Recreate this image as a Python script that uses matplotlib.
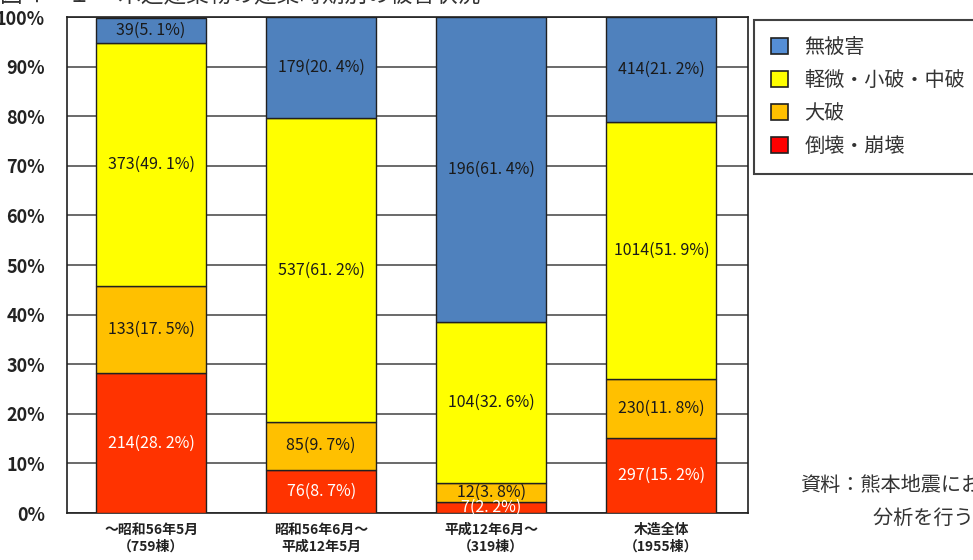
import numpy as np
import matplotlib.pyplot as plt
from matplotlib.patches import Patch

plt.rcParams['font.family'] = ['Noto Sans CJK JP', 'DejaVu Sans']

groups = ['～昭和56年5月\n（759棟）', '昭和56年6月～\n平成12年5月', '平成12年6月～\n（319棟）', '木造全体\n（1955棟）']
categories = ['倒壊・崩壊', '大破', '軽微・小破・中破', '無被害']

# counts and shares per category (bottom to top)
counts = {
    '倒壊・崩壊': [214, 76, 7, 297],
    '大破': [133, 85, 12, 230],
    '軽微・小破・中破': [373, 537, 104, 1014],
    '無被害': [39, 179, 196, 414],
}
shares = {
    '倒壊・崩壊': [28.2, 8.7, 2.2, 15.2],
    '大破': [17.5, 9.7, 3.8, 11.8],
    '軽微・小破・中破': [49.1, 61.2, 32.6, 51.9],
    '無被害': [5.1, 20.4, 61.4, 21.2],
}
bar_colors = {'倒壊・崩壊': '#FF3300', '大破': '#FFC000', '軽微・小破・中破': '#FFFF00', '無被害': '#4F81BD'}
legend_colors = {'倒壊・崩壊': '#FF0000', '大破': '#FFC000', '軽微・小破・中破': '#FFFF00', '無被害': '#558ED5'}

fig = plt.figure(figsize=(9.73, 5.6), dpi=100)
ax = fig.add_axes([0.0689, 0.0839, 0.7000, 0.8857])

x = np.arange(len(groups))
bottom = np.zeros(len(groups))
for cat in categories:
    vals = np.array(shares[cat])
    ax.bar(x, vals, 0.647, bottom=bottom, color=bar_colors[cat], edgecolor='#202020', linewidth=1, zorder=3)
    for i in range(len(groups)):
        label = f'{counts[cat][i]}({vals[i]:.1f}%)'.replace('.', '. ')
        tc = 'white' if cat == '倒壊・崩壊' else '#1a1a1a'
        ax.text(x[i], bottom[i] + vals[i] / 2, label, ha='center', va='center', fontsize=11.5, color=tc, zorder=4)
    bottom += vals

ax.set_xlim(-0.494, 3.51)
ax.set_ylim(0, 100)
ax.set_yticks(np.arange(0, 101, 10))
ax.set_yticklabels([f'{v}%' for v in range(0, 101, 10)], fontsize=13, fontweight='bold', color='#222222')
ax.set_xticks(x)
ax.set_xticklabels(groups, fontsize=10, fontweight='bold', color='#222222', linespacing=1.25)
ax.tick_params(axis='both', length=0)
ax.tick_params(axis='y', pad=16)
ax.tick_params(axis='x', pad=7)
ax.yaxis.grid(True, color='#505050', linewidth=1.2, zorder=0)
ax.set_axisbelow(True)
for s in ax.spines.values():
    s.set_color('#202020')
    s.set_linewidth(1.2)

handles = [Patch(facecolor=legend_colors[c], edgecolor='#202020', linewidth=1.2) for c in categories[::-1]]
leg = fig.legend(handles, categories[::-1], loc='upper left', bbox_to_anchor=(0.775, 0.315, 0.26, 0.65),
                 mode='expand', frameon=True, fancybox=False, edgecolor='#111111', borderaxespad=0,
                 handlelength=0.85, handleheight=0.85, handletextpad=0.8, labelspacing=0.6,
                 borderpad=0.85, prop={'family': ['Noto Sans CJK JP'], 'size': 14.5})
leg.get_frame().set_linewidth(1.5)
for t in leg.get_texts():
    t.set_color('#333333')

fig.text(0.0, 1.009, '図４－１ 　木造建築物の建築時期別の被害状況', fontsize=16.3, va='center', ha='left',
         family=['Noto Sans CJK JP'], color='#333333')
fig.text(800 / 973, 1 - 485 / 560, '資料：熊本地震における建築物被害の原因', fontsize=14.5, va='center', ha='left',
         family=['Noto Sans CJK JP'], color='#333333')
fig.text(873 / 973, 1 - 518 / 560, '分析を行う委員会 報告書', fontsize=14.5, va='center', ha='left',
         family=['Noto Sans CJK JP'], color='#333333')

fig.savefig('out.png', dpi=100)
